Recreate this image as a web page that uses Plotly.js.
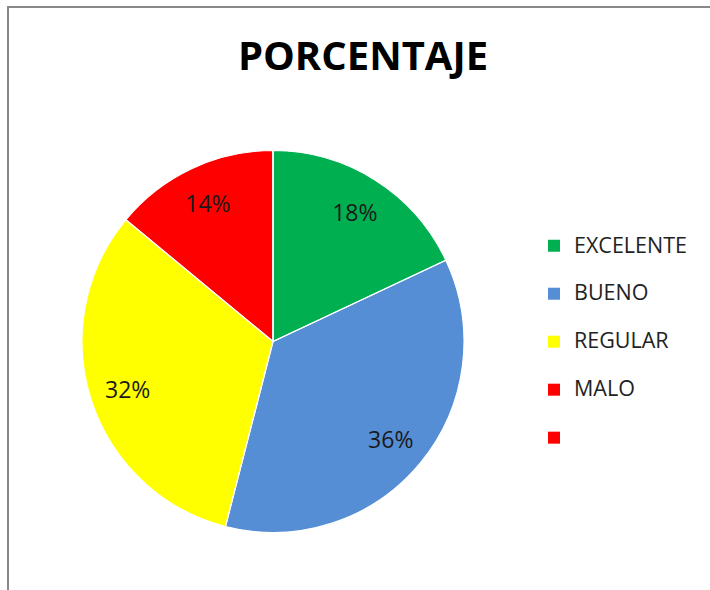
<!DOCTYPE html>
<html>
<head>
<meta charset="utf-8">
<script src="https://cdn.plot.ly/plotly-3.0.1.min.js"></script>
<style>html,body{margin:0;padding:0;background:#fff;}#chart{width:710px;height:590px;}</style>
</head>
<body>
<div id="chart"></div>
<script>
// Data
const categories = ['EXCELENTE', 'BUENO', 'REGULAR', 'MALO', ' '];
const values = [18, 36, 32, 14, 0];
const sliceColors = ['#00B050', '#558ED5', '#FFFF00', '#FF0000', '#FF0000'];
const chartTitle = 'PORCENTAJE';

const W = 710, H = 590;
const cx = 273, cy = 341.5, R = 191;
const dom = {
  x: [(cx - R) / W, (cx + R) / W],
  y: [1 - (cy + R) / H, 1 - (cy - R) / H]
};

// legend labels: text line plus an empty line to space the entries
const legendLabels = categories.map(c => '<span style="font-size:21.5px">' + c + '</span><br>');

const common = {
  type: 'pie',
  values: values,
  sort: false,
  direction: 'clockwise',
  rotation: 0,
  domain: dom,
  hoverinfo: 'none'
};

// filled slices (legend source)
const pieTrace = Object.assign({}, common, {
  labels: legendLabels,
  marker: {colors: sliceColors, line: {width: 0}},
  textinfo: 'none',
  showlegend: true
});

// white separators between slices
const edgeTrace = Object.assign({}, common, {
  labels: categories,
  marker: {colors: categories.map(() => 'rgba(0,0,0,0)'), line: {color: '#ffffff', width: 1.2}},
  textinfo: 'none',
  showlegend: false
});

// percentage labels placed in the outer band of the slices
const labelTrace = Object.assign({}, common, {
  labels: categories,
  hole: 0.6,
  marker: {colors: categories.map(() => 'rgba(0,0,0,0)'), line: {width: 0}},
  textinfo: 'percent',
  textposition: 'inside',
  insidetextorientation: 'horizontal',
  textfont: {family: 'Open Sans, sans-serif', size: 23, color: '#1a1a1a'},
  showlegend: false
});

const layout = {
  width: W, height: H,
  margin: {l: 0, r: 0, t: 0, b: 0},
  paper_bgcolor: '#ffffff',
  title: {
    text: '<b>' + chartTitle + '</b>',
    font: {family: 'Open Sans, sans-serif', size: 40, color: '#000000'},
    xref: 'container', yref: 'container',
    x: 363 / W, xanchor: 'center',
    y: 1 - 56 / H, yanchor: 'middle'
  },
  legend: {
    x: 534 / W, xanchor: 'left',
    y: 1 - 228 / H, yanchor: 'top',
    valign: 'top',
    font: {family: 'Open Sans, sans-serif', size: 17.3, color: '#222222'},
    bgcolor: 'rgba(0,0,0,0)',
    borderwidth: 0
  },
  shapes: [
    {type: 'line', xref: 'paper', yref: 'paper', x0: 8 / W, x1: 1, y0: 1 - 7 / H, y1: 1 - 7 / H,
     line: {color: '#888888', width: 2}},
    {type: 'line', xref: 'paper', yref: 'paper', x0: 8 / W, x1: 8 / W, y0: 0, y1: 1 - 6 / H,
     line: {color: '#888888', width: 2}}
  ]
};

Plotly.newPlot('chart', [pieTrace, edgeTrace, labelTrace], layout, {displayModeBar: false, staticPlot: true});
</script>
</body>
</html>
